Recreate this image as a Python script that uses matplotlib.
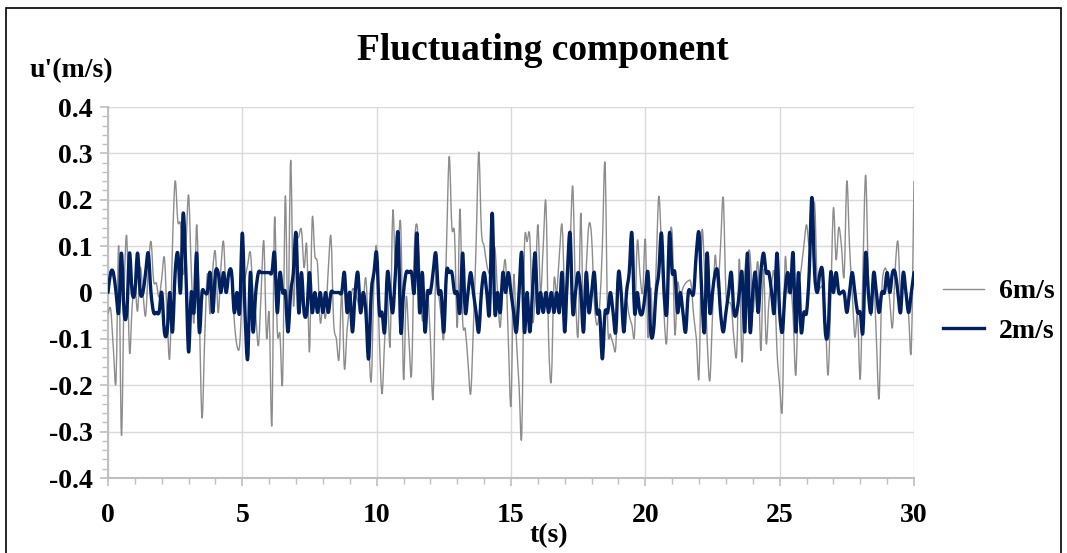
import numpy as np
import matplotlib
matplotlib.use("Agg")
import matplotlib.pyplot as plt
from matplotlib.patches import Rectangle, PathPatch
from matplotlib.path import Path
from matplotlib.lines import Line2D
from matplotlib.ticker import MultipleLocator

# sampling: 0.1 s over 30 s
dt = 0.1

# u' at 6 m/s (one row per second)
u_6ms = [
    -0.046, -0.036, -0.12, -0.19, 0.1, -0.307, 0.0, 0.12, -0.128, -0.03,
    0.018, -0.04, 0.054, 0.0, -0.05, 0.05, 0.11, 0.025, 0.02, -0.01,
    0.03, 0.075, -0.05, -0.14, 0.1, 0.24, 0.153, 0.146, 0.04, 0.1,
    0.21, 0.05, -0.064, 0.146, -0.05, -0.27, -0.1, 0.04, -0.046, 0.05,
    0.086, -0.043, 0.05, 0.11, 0.0, 0.046, 0.04, -0.06, -0.114, -0.114,
    0.0, 0.03, 0.06, 0.086, 0.0, -0.05, -0.114, 0.0, 0.11, -0.096,
    -0.046, -0.285, 0.16, -0.082, -0.09, -0.19, 0.207, -0.064, 0.285, -0.025,
    0.1, 0.12, 0.135, 0.054, 0.1, -0.128, 0.157, 0.08, 0.06, -0.064,
    -0.025, -0.054, 0.05, 0.12, -0.064, -0.1, -0.143, 0.0, -0.164, -0.08,
    -0.032, 0.007, 0.0, -0.02, -0.046, -0.02, 0.03, -0.1, -0.19, 0.025,
    0.096, -0.1, -0.218, -0.1, 0.0, -0.114, 0.175, 0.046, 0.1, 0.14,
    -0.186, -0.01, -0.1, -0.175, 0.09, 0.146, 0.05, -0.06, -0.01, 0.0,
    -0.1, -0.228, 0.04, 0.0, -0.05, -0.096, 0.1, 0.293, 0.14, 0.125,
    -0.075, 0.18, -0.06, -0.08, -0.15, -0.218, -0.075, 0.1, 0.303, 0.132,
    0.1, 0.06, 0.04, 0.05, 0.096, 0.0, -0.075, 0.03, 0.064, -0.1,
    -0.243, 0.036, -0.1, -0.2, -0.307, 0.096, 0.11, 0.12, -0.06, 0.0,
    0.146, 0.0, 0.1, 0.193, -0.1, -0.19, 0.025, 0.0, 0.08, 0.146,
    0.0, 0.0, 0.1, 0.228, 0.0, -0.09, 0.171, -0.082, 0.05, 0.146,
    0.12, -0.02, -0.07, -0.03, 0.1, 0.278, -0.068, -0.09, -0.11, -0.118,
    0.04, 0.0, -0.06, -0.02, -0.05, -0.07, -0.09, 0.11, 0.04, 0.0,
    0.114, -0.096, 0.01, -0.09, 0.05, 0.207, 0.1, -0.05, -0.104, 0.1,
    0.125, -0.09, 0.02, -0.01, 0.01, 0.02, 0.025, 0.02, -0.05, -0.1,
    -0.18, 0.125, 0.054, -0.1, -0.19, -0.05, 0.08, 0.01, 0.1, 0.204,
    0.0, -0.02, -0.03, -0.1, -0.132, 0.072, -0.15, 0.04, 0.08, 0.082,
    -0.04, 0.02, 0.06, -0.125, 0.05, -0.11, -0.02, 0.02, 0.04, -0.125,
    -0.2, -0.246, 0.068, 0.0, 0.02, -0.05, -0.178, 0.0, 0.05, 0.1,
    0.146, 0.1, 0.12, 0.193, 0.02, 0.01, 0.01, -0.05, -0.178, -0.02,
    0.182, 0.071, 0.14, 0.1, 0.036, 0.24, 0.1, 0.0, -0.096, -0.05,
    -0.186, 0.05, 0.253, 0.04, -0.05, 0.03, -0.1, -0.228, 0.0, 0.05,
    0.04, -0.02, -0.075, 0.05, 0.11, 0.0, 0.04, 0.0, -0.05, -0.121,
    0.24,
]

# u' at 2 m/s (probe resolution ~0.043 m/s)
u_2ms = [
    0.0, 0.043, 0.043, 0.0, -0.043, 0.085, -0.043, -0.043, 0.085, 0.0,
    0.0, 0.085, 0.0, 0.0, 0.043, 0.085, 0.0, -0.043, -0.043, -0.043,
    0.0, -0.085, -0.085, 0.0, -0.085, 0.043, 0.085, 0.0, 0.171, 0.043,
    -0.128, 0.0, -0.043, 0.085, -0.085, 0.0, 0.0, 0.0, 0.043, -0.043,
    0.043, 0.043, 0.0, 0.043, 0.0, 0.043, 0.043, -0.043, 0.0, -0.043,
    0.128, -0.043, -0.143, 0.043, -0.085, 0.0, 0.043, 0.043, 0.043, 0.043,
    0.043, 0.043, 0.085, -0.043, 0.043, 0.0, 0.0, -0.085, 0.0, 0.043,
    0.128, -0.043, 0.043, -0.043, -0.043, 0.043, -0.043, 0.0, -0.043, 0.0,
    -0.043, 0.0, -0.043, 0.0, 0.0, 0.0, 0.0, 0.0, 0.043, -0.043,
    0.0, -0.085, 0.0, 0.043, -0.043, 0.0, -0.043, -0.143, 0.0, 0.043,
    0.085, -0.043, -0.043, -0.085, 0.043, 0.0, -0.043, 0.043, 0.128, -0.085,
    0.0, 0.043, 0.043, 0.043, 0.0, 0.128, -0.043, 0.043, -0.085, 0.0,
    0.0, 0.043, 0.085, 0.0, 0.0, -0.085, 0.043, 0.043, 0.043, 0.0,
    0.0, -0.043, 0.085, -0.043, 0.0, 0.043, 0.0, -0.043, -0.085, 0.0,
    0.043, 0.0, -0.043, 0.171, -0.043, 0.0, -0.043, 0.043, 0.0, 0.043,
    0.0, -0.043, -0.085, 0.0, 0.085, -0.085, 0.0, -0.085, 0.0, 0.085,
    -0.043, 0.0, -0.043, 0.0, -0.043, 0.0, -0.043, 0.0, -0.043, 0.043,
    -0.085, 0.043, 0.128, -0.043, 0.0, 0.043, 0.0, -0.085, 0.043, -0.043,
    0.0, 0.043, -0.043, -0.043, -0.143, -0.043, -0.043, 0.0, -0.043, -0.085,
    0.043, 0.0, -0.085, 0.0, 0.043, 0.128, -0.043, 0.0, -0.043, -0.043,
    0.0, 0.043, -0.085, -0.085, 0.0, 0.043, 0.128, 0.0, -0.043, 0.128,
    0.043, 0.043, -0.043, 0.0, -0.043, -0.085, 0.0, 0.0, 0.0, 0.085,
    0.128, 0.0, -0.085, 0.085, -0.043, 0.0, 0.043, 0.043, -0.043, -0.085,
    -0.043, 0.0, 0.043, -0.043, -0.043, 0.0, 0.043, -0.085, 0.085, -0.085,
    0.0, 0.043, -0.043, 0.043, 0.085, 0.043, 0.043, 0.0, -0.043, 0.085,
    -0.043, -0.085, 0.0, 0.043, 0.0, 0.085, -0.085, 0.043, -0.085, -0.043,
    -0.043, 0.043, 0.205, 0.043, 0.0, 0.043, 0.043, -0.085, -0.085, 0.043,
    0.0, 0.043, 0.0, 0.0, 0.0, -0.043, 0.0, 0.043, 0.0, -0.043,
    -0.043, -0.085, 0.085, 0.0, -0.043, 0.043, 0.0, -0.043, 0.0, 0.0,
    0.043, 0.0, 0.043, 0.043, 0.0, -0.043, 0.043, 0.0, -0.043, 0.0,
    0.043,
]

series_labels = ["6m/s", "2m/s"]
series_colors = ["#8c8c8c", "#002060"]
series_widths = [1.0, 2.4]
x_ticks = [0, 5, 10, 15, 20, 25, 30]
y_ticks = [-0.4, -0.3, -0.2, -0.1, 0, 0.1, 0.2, 0.3, 0.4]

t = np.arange(len(u_6ms)) * dt


def smoothed_path(x, y):
    # spreadsheet-style smoothed line: cubic Bezier through every sample
    pts = np.column_stack([x, y])
    n = len(pts)
    verts = [pts[0]]
    codes = [Path.MOVETO]
    for i in range(n - 1):
        p_prev = pts[max(i - 1, 0)]
        p0 = pts[i]
        p1 = pts[i + 1]
        p_next = pts[min(i + 2, n - 1)]
        verts += [p0 + (p1 - p_prev) / 6.0, p1 - (p_next - p0) / 6.0, p1]
        codes += [Path.CURVE4] * 3
    return Path(verts, codes)


plt.rcParams["font.family"] = ["Liberation Serif", "DejaVu Serif"]
plt.rcParams["font.weight"] = "bold"

fig = plt.figure(figsize=(10.67, 5.53), dpi=100)
ax = fig.add_axes([0.1012, 0.1356, 0.7554, 0.6709])

for values, color, lw, z in zip([u_6ms, u_2ms], series_colors, series_widths, [3, 4]):
    ax.add_patch(PathPatch(smoothed_path(t, np.asarray(values)), fill=False,
                           edgecolor=color, lw=lw, joinstyle="round",
                           capstyle="round", zorder=z))

ax.set_xlim(0, 30)
ax.set_ylim(-0.4, 0.4)
ax.set_xticks(x_ticks)
ax.set_yticks(y_ticks)
ax.set_xticklabels([str(v) for v in x_ticks])
ax.set_yticklabels(["0" if v == 0 else f"{v:g}" for v in y_ticks])
ax.xaxis.set_minor_locator(MultipleLocator(1))
ax.yaxis.set_minor_locator(MultipleLocator(0.02))

ax.grid(True, which="major", color="#d9d9d9", lw=1.0, zorder=0)
ax.set_axisbelow(True)

for side in ["top", "right"]:
    ax.spines[side].set_visible(False)
for side in ["left", "bottom"]:
    ax.spines[side].set_color("#bfbfbf")
    ax.spines[side].set_linewidth(1.5)

ax.tick_params(axis="both", which="major", direction="out", length=6,
               width=1.2, color="#bfbfbf", labelsize=20)
ax.tick_params(axis="both", which="minor", direction="out", length=4,
               width=1.0, color="#bfbfbf")
ax.tick_params(axis="x", which="major", pad=12)
ax.tick_params(axis="y", which="major", pad=5)
for lab in ax.get_xticklabels() + ax.get_yticklabels():
    lab.set_fontweight("bold")

fig.text(0.509, 0.909, "Fluctuating component", ha="center", va="center",
         fontsize=27, fontweight="bold")
fig.text(0.028, 0.873, "u'(m/s)", ha="left", va="center",
         fontsize=20, fontweight="bold")
fig.text(0.514, 0.032, "t(s)", ha="center", va="center",
         fontsize=20, fontweight="bold")

handles = [Line2D([], [], color=c, lw=w) for c, w in zip(series_colors, series_widths)]
fig.legend(handles, series_labels, loc="center left", bbox_to_anchor=(0.884, 0.437),
           frameon=False, handlelength=1.45, handletextpad=0.55, labelspacing=0.5,
           borderpad=0.0, borderaxespad=0.0, prop={"weight": "bold", "size": 20})

fig.patches.append(Rectangle((0.006, -0.01), 0.988, 0.996, transform=fig.transFigure,
                             fill=False, edgecolor="black", lw=1.2))

fig.savefig("out.png", dpi=100)
